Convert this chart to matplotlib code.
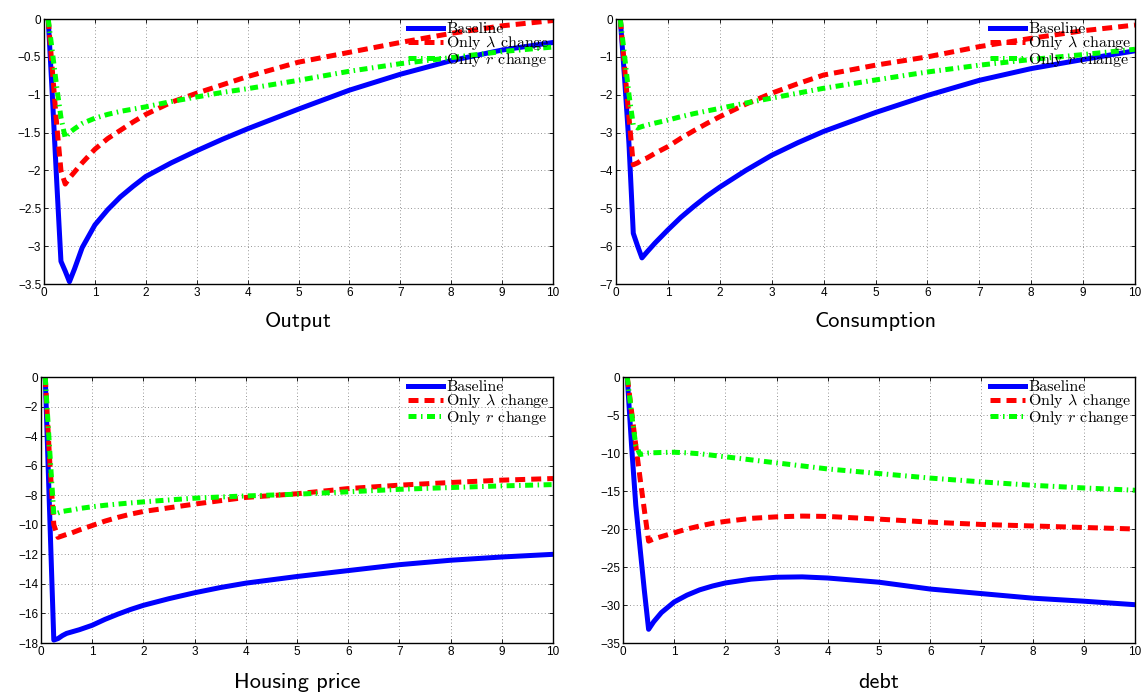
import matplotlib
matplotlib.use("Agg")
import matplotlib.pyplot as plt
from matplotlib.font_manager import FontProperties

plt.rcParams['mathtext.fontset'] = 'cm'
plt.rcParams['font.family'] = ['Liberation Sans', 'DejaVu Sans']

# time axis (years)
t = [0.083, 0.167, 0.25, 0.333, 0.417, 0.5, 0.6, 0.75, 1, 1.25, 1.5, 1.75, 2, 2.5, 3, 3.5,
     4, 5, 6, 7, 8, 9, 10]

# Output
out_base = [0, -1.05, -2.15, -3.2, -3.33, -3.47, -3.3, -3.02, -2.72, -2.52, -2.35, -2.21,
            -2.08, -1.9, -1.74, -1.59, -1.45, -1.19, -0.94, -0.73, -0.55, -0.41, -0.31]
out_lam = [0, -0.7, -1.4, -2.0, -2.18, -2.1, -2.02, -1.9, -1.72, -1.58, -1.47, -1.36,
           -1.26, -1.1, -0.98, -0.87, -0.76, -0.57, -0.44, -0.31, -0.19, -0.09, -0.02]
out_r = [0, -0.45, -0.9, -1.3, -1.57, -1.5, -1.45, -1.38, -1.31, -1.26, -1.22, -1.19,
         -1.16, -1.09, -1.03, -0.97, -0.92, -0.81, -0.69, -0.59, -0.51, -0.43, -0.37]

# Consumption
con_base = [0, -1.6, -3.3, -5.66, -6.0, -6.31, -6.15, -5.92, -5.57, -5.24, -4.95, -4.68,
            -4.44, -4.0, -3.6, -3.27, -2.97, -2.47, -2.02, -1.62, -1.31, -1.07, -0.84]
con_lam = [0, -1.3, -2.6, -3.85, -3.8, -3.72, -3.67, -3.55, -3.37, -3.15, -2.95, -2.76,
           -2.58, -2.25, -1.96, -1.71, -1.48, -1.22, -1.0, -0.73, -0.51, -0.31, -0.16]
con_r = [0, -1.0, -2.0, -2.8, -2.88, -2.84, -2.8, -2.75, -2.67, -2.58, -2.5, -2.43,
         -2.36, -2.22, -2.09, -1.96, -1.83, -1.61, -1.4, -1.22, -1.07, -0.94, -0.8]

# Housing price
hp_base = [0, -9.0, -17.8, -17.7, -17.5, -17.35, -17.25, -17.1, -16.8, -16.4, -16.05, -15.73,
           -15.45, -15.0, -14.6, -14.25, -13.95, -13.5, -13.1, -12.7, -12.4, -12.18, -12.0]
hp_lam = [0, -5.5, -10.0, -10.85, -10.75, -10.65, -10.55, -10.35, -10.05, -9.75, -9.5, -9.28,
          -9.1, -8.85, -8.6, -8.37, -8.15, -7.9, -7.55, -7.32, -7.14, -6.98, -6.87]
hp_r = [0, -4.8, -9.3, -9.2, -9.1, -9.05, -9.0, -8.9, -8.78, -8.68, -8.6, -8.52,
        -8.45, -8.32, -8.2, -8.12, -8.05, -7.93, -7.77, -7.6, -7.48, -7.37, -7.28]

# debt
debt_base = [0, -9.0, -16.9, -22.5, -28.1, -33.2, -32.2, -31.0, -29.6, -28.7, -28.0, -27.5,
             -27.1, -26.6, -26.35, -26.3, -26.45, -27.0, -27.9, -28.5, -29.1, -29.5, -29.96]
debt_lam = [0, -4.5, -9.0, -13.3, -17.5, -21.6, -21.3, -21.0, -20.5, -20.0, -19.6, -19.25,
            -19.0, -18.6, -18.4, -18.3, -18.35, -18.7, -19.1, -19.4, -19.6, -19.8, -20.0]
debt_r = [0, -4.8, -9.0, -10.2, -10.1, -10.0, -9.97, -9.93, -9.9, -9.98, -10.1, -10.3,
          -10.5, -10.9, -11.3, -11.7, -12.1, -12.7, -13.3, -13.8, -14.25, -14.6, -14.9]

titles = ['Output', 'Consumption', 'Housing price', 'debt']
series = [(out_base, out_lam, out_r), (con_base, con_lam, con_r),
          (hp_base, hp_lam, hp_r), (debt_base, debt_lam, debt_r)]
y_ticks = [[0, -0.5, -1, -1.5, -2, -2.5, -3, -3.5],
           [0, -1, -2, -3, -4, -5, -6, -7],
           [0, -2, -4, -6, -8, -10, -12, -14, -16, -18],
           [0, -5, -10, -15, -20, -25, -30, -35]]
x_ticks = list(range(0, 11))
labels = ['Baseline', r'Only $\lambda$ change', r'Only $r$ change']

W, H = 1146, 694
# panel boxes in pixels: left, top, right, bottom
boxes = [(44, 19, 553, 284), (616, 19, 1135, 284),
         (41, 377, 553, 643), (623, 377, 1135, 643)]
title_y = [322, 682]

fig = plt.figure(figsize=(W / 100, H / 100), dpi=100)
leg_font = FontProperties(family='cmr10', size=11.5)

for i, ((l, tp, r, b), ttl, (yb, yl, yr), yt) in enumerate(zip(boxes, titles, series, y_ticks)):
    ax = fig.add_axes([l / W, 1 - b / H, (r - l) / W, (b - tp) / H])
    lw = 3.6
    ax.plot(t, yb, color=(0, 0, 1), lw=lw, label=labels[0], solid_joinstyle='round')
    ax.plot(t, yl, color=(1, 0, 0), lw=lw, dashes=(2.0, 1.2), label=labels[1])
    ax.plot(t, yr, color=(0, 1, 0), lw=lw, dashes=(1.6, 0.9, 0.3, 0.9), label=labels[2])
    ax.set_xlim(0, 10)
    ax.set_ylim(min(yt), 0)
    ax.set_xticks(x_ticks)
    ax.set_xticklabels([str(v) for v in x_ticks])
    ax.set_yticks(yt)
    ax.set_yticklabels([('%g' % v).replace('-', '\u2212') for v in yt])
    ax.grid(True, linestyle=(0, (1, 3)), color='0.45', lw=0.6)
    ax.tick_params(direction='in', top=True, right=True, length=3, width=0.6,
                   labelsize=8.5, pad=2)
    for s in ax.spines.values():
        s.set_linewidth(1.0)
    ax.legend(loc='upper right', frameon=False, prop=leg_font, handlelength=2.2,
              labelspacing=-0.12, borderaxespad=0.1,
              handletextpad=0.2, borderpad=0.1)
    fig.text((l + r) / 2 / W, 1 - title_y[i // 2] / H, ttl, ha='center', va='center',
             fontsize=16, family=['cmss10', 'DejaVu Sans'])

fig.savefig('out.png', dpi=100)
